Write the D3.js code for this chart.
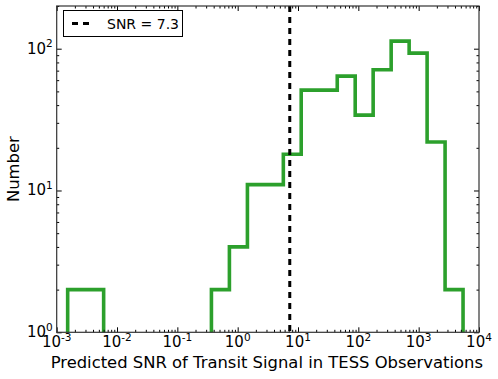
<!DOCTYPE html>
<html>
<head>
<meta charset="utf-8">
<script src="https://cdn.jsdelivr.net/npm/d3@7"></script>
<style>
  body { margin: 0; background: #fff; }
  svg { font-family: "DejaVu Sans", sans-serif; }
</style>
</head>
<body>
<svg width="498" height="379"></svg>
<script>
// histogram bin edges (SNR)
var binEdges = [0.00152, 0.00302, 0.00600, 0.0119, 0.0237, 0.0469, 0.0931, 0.185,
                0.367, 0.729, 1.45, 2.88, 5.71, 11.3, 22.5, 44.7, 88.7, 176,
                350, 695, 1380, 2740, 5440];
// counts per bin
var binCounts = [2, 2, 0, 0, 0, 0, 0, 0, 2, 4, 11, 11, 18, 51, 51, 64, 34, 71, 113, 93, 22, 2];
var snrCut = 7.3;
var xTickExp = [-3, -2, -1, 0, 1, 2, 3, 4];
var yTickExp = [0, 1, 2];

var svg = d3.select("svg"),
    margin = {top: 6, right: 19, bottom: 46.7, left: 56.7},
    width = 498 - margin.left - margin.right,
    height = 379 - margin.top - margin.bottom;

var g = svg.append("g").attr("transform", "translate(" + margin.left + "," + margin.top + ")");

var x = d3.scaleLog().domain([1e-3, 1e4]).range([0, width]),
    y = d3.scaleLog().domain([1, 200]).range([height, 0]);

// minor tick values
function minors(lo, hi) {
  var out = [];
  for (var e = lo; e < hi; e++)
    for (var m = 2; m <= 9; m++) out.push(m * Math.pow(10, e));
  return out;
}
var xMinor = minors(-3, 4),
    yMinor = minors(0, 3).filter(function(v) { return v <= 200; });

g.append("clipPath").attr("id", "clip")
  .append("rect").attr("width", width).attr("height", height);

// step histogram
var bottom = height + 30;
var pts = [[x(binEdges[0]), bottom]];
binCounts.forEach(function(c, i) {
  var yy = c > 0 ? y(c) : bottom;
  pts.push([x(binEdges[i]), yy]);
  pts.push([x(binEdges[i + 1]), yy]);
});
pts.push([x(binEdges[binEdges.length - 1]), bottom]);

g.append("path")
  .attr("clip-path", "url(#clip)")
  .attr("d", d3.line()(pts))
  .attr("fill", "none")
  .attr("stroke", "#2ca02c")
  .attr("stroke-width", 3.6)
  .attr("stroke-linejoin", "miter");

// threshold line
g.append("line")
  .attr("x1", x(snrCut)).attr("x2", x(snrCut))
  .attr("y1", 0).attr("y2", height)
  .attr("stroke", "#000")
  .attr("stroke-width", 3)
  .attr("stroke-dasharray", "6,5");

// ticks, all inside
function tickAxis(axis, vals, len, tr) {
  var a = g.append("g").attr("transform", tr)
    .call(axis.tickValues(vals).tickSize(-len).tickFormat(""));
  a.select(".domain").remove();
  a.selectAll("line").attr("stroke", "#000").attr("stroke-width", 1);
  return a;
}
var xMaj = xTickExp.map(function(e) { return Math.pow(10, e); }),
    yMaj = yTickExp.map(function(e) { return Math.pow(10, e); });

tickAxis(d3.axisBottom(x), xMaj, 5, "translate(0," + height + ")");
tickAxis(d3.axisBottom(x), xMinor, 2.5, "translate(0," + height + ")");
tickAxis(d3.axisTop(x), xMaj, 5, "translate(0,0)");
tickAxis(d3.axisTop(x), xMinor, 2.5, "translate(0,0)");
tickAxis(d3.axisLeft(y), yMaj, 5, "translate(0,0)");
tickAxis(d3.axisLeft(y), yMinor, 2.5, "translate(0,0)");
tickAxis(d3.axisRight(y), yMaj, 5, "translate(" + width + ",0)");
tickAxis(d3.axisRight(y), yMinor, 2.5, "translate(" + width + ",0)");

// frame
g.append("rect")
  .attr("width", width).attr("height", height)
  .attr("fill", "none").attr("stroke", "#333").attr("stroke-width", 1.2);

// tick labels with superscripts
xTickExp.forEach(function(e) {
  var t = g.append("text")
    .attr("x", x(Math.pow(10, e)))
    .attr("y", height + 15)
    .attr("text-anchor", "middle")
    .attr("font-size", 15)
    .attr("fill", "#000");
  t.append("tspan").text("10");
  t.append("tspan").attr("dy", -6.5).attr("font-size", 10.5).text(e < 0 ? "-" + (-e) : e);
});
yTickExp.forEach(function(e) {
  var t = g.append("text")
    .attr("x", -4)
    .attr("y", y(Math.pow(10, e)) + 5)
    .attr("text-anchor", "end")
    .attr("font-size", 15)
    .attr("fill", "#000");
  t.append("tspan").text("10");
  t.append("tspan").attr("dy", -6.5).attr("font-size", 10.5).text(e);
});

// axis titles
svg.append("text")
  .attr("x", margin.left + width / 2 - 1)
  .attr("y", 368)
  .attr("text-anchor", "middle")
  .attr("font-size", 16.4)
  .text("Predicted SNR of Transit Signal in TESS Observations");

svg.append("text")
  .attr("transform", "translate(19," + (margin.top + height / 2) + ") rotate(-90)")
  .attr("text-anchor", "middle")
  .attr("font-size", 16.4)
  .text("Number");

// legend
var leg = svg.append("g");
leg.append("rect")
  .attr("x", 63.5).attr("y", 10.5)
  .attr("width", 119).attr("height", 26)
  .attr("fill", "#fff").attr("stroke", "#000").attr("stroke-width", 1);
leg.append("line")
  .attr("x1", 72).attr("x2", 90)
  .attr("y1", 23.5).attr("y2", 23.5)
  .attr("stroke", "#000").attr("stroke-width", 3)
  .attr("stroke-dasharray", "6,5");
leg.append("text")
  .attr("x", 107).attr("y", 28.5)
  .attr("font-size", 14)
  .text("SNR = " + snrCut);
</script>
</body>
</html>
